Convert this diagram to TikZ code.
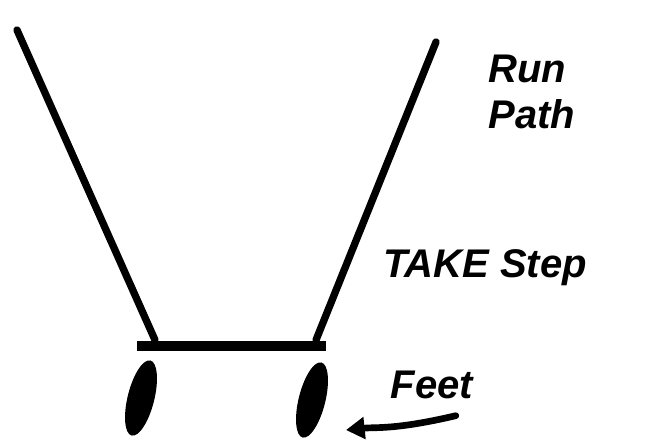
\documentclass[tikz,border=0pt]{standalone}
\usepackage{fontspec}
\setmainfont{Liberation Sans}
\usetikzlibrary{shapes.geometric,arrows.meta}
\tikzset{
  pen/.style={line width=5.5pt, line cap=round},
  foot/.style={ellipse, fill=black, minimum width=20pt, minimum height=58pt, inner sep=0pt},
  scrawl/.style={font=\bfseries\itshape\fontsize{30}{34}\selectfont, align=left},
}
\begin{document}
\begin{tikzpicture}[x=0.75pt, y=-0.75pt]
\useasboundingbox (0,0) rectangle (666,446);
% path sides
\coordinate (lt) at (17,30);
\coordinate (lb) at (155,340);
\coordinate (rt) at (436,42);
\coordinate (rb) at (316,340);
\draw[pen] (lt) -- (lb);
\draw[pen] (rt) -- (rb);
% base
\coordinate (bl) at (137,346);
\coordinate (br) at (326,346);
\draw[line width=7pt] (bl) -- (br);
% feet
\node[foot, rotate=-14] (leftfoot) at (141,398) {};
\node[foot, rotate=-14] (rightfoot) at (312,400) {};
% labels
\node[scrawl] (run) at (532,92) {Run\\Path};
\node[scrawl] (step) at (485,268) {TAKE Step};
\node[scrawl] (feet) at (432,385) {Feet};
\draw[-{Triangle[length=14pt,width=16pt]}, line width=5pt, line cap=round] (feet.south east) ++(-22,12) coordinate (ftail)
  .. controls (395,430) and (375,427) .. (346,430) coordinate (fhead);
\end{tikzpicture}
\end{document}
